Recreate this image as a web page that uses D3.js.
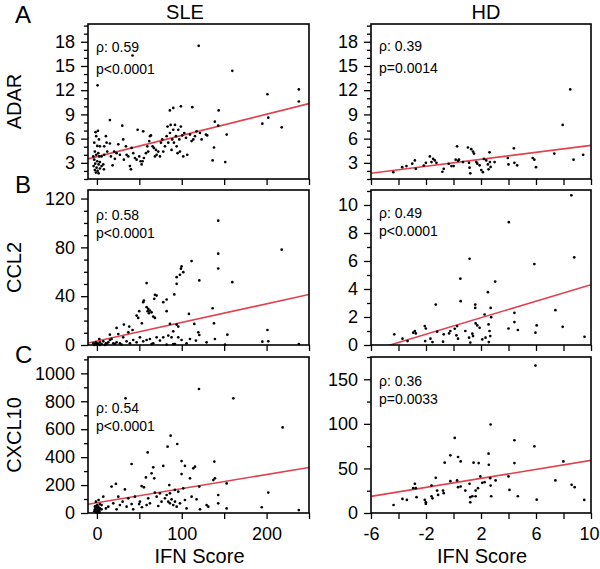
<!DOCTYPE html>
<html>
<head>
<meta charset="utf-8">
<script src="https://cdn.jsdelivr.net/npm/d3@7"></script>
<style>
  html, body { margin: 0; padding: 0; background: #fff; }
  svg { display: block; font-family: "Liberation Sans", Arial, sans-serif; }
</style>
</head>
<body>
<svg id="chart" width="600" height="569"></svg>
<script>
// ---------------- DATA ----------------
const groups = ["SLE", "HD"];
const genes = ["ADAR", "CCL2", "CXCL10"];
const panelLetters = ["A", "B", "C"];
const xTitle = "IFN Score";

// x tick values
const xTicksSLE = [0, 50, 100, 150, 200, 250];
const xLabelsSLE = [0, 100, 200];
const xTicksHD = [-6, -4, -2, 0, 2, 4, 6, 8, 10];
const xLabelsHD = [-6, -2, 2, 6, 10];

// y tick values (major labelled, minor unlabelled)
const yMajorADAR = [3, 6, 9, 12, 15, 18];
const yMinorADAR = [1, 2, 4, 5, 7, 8, 10, 11, 13, 14, 16, 17, 19, 20];
const yMajorCCL2SLE = [0, 40, 80, 120];
const yMinorCCL2SLE = [10, 20, 30, 50, 60, 70, 90, 100, 110];
const yMajorCCL2HD = [0, 2, 4, 6, 8, 10];
const yMinorCCL2HD = [1, 3, 5, 7, 9, 11];
const yMajorCXCL10SLE = [0, 200, 400, 600, 800, 1000];
const yMinorCXCL10SLE = [100, 300, 500, 700, 900, 1100];
const yMajorCXCL10HD = [0, 50, 100, 150];
const yMinorCXCL10HD = [25, 75, 125, 175];

// correlation annotations
const rhoSLE = ["ρ: 0.59", "ρ: 0.58", "ρ: 0.54"];
const pSLE = ["p<0.0001", "p<0.0001", "p<0.0001"];
const rhoHD = ["ρ: 0.39", "ρ: 0.49", "ρ: 0.36"];
const pHD = ["p=0.0014", "p<0.0001", "p=0.0033"];

// regression lines (slope, intercept)
const slopeSLE = [0.0263, 0.1527, 1.014];
const interceptSLE = [3.76, 3.2, 72.7];
const slopeHD = [0.216, 0.295, 2.52];
const interceptHD = [3.01, 1.36, 33.8];

// scatter data [IFN score, expression]
const adarSLE = [
  [-1.6,6.8],[1.2,6.95],[-0.8,6.3],[2.4,5.9],[-3.1,5.5],[0.4,5.1],[3.5,5.05],[-2.4,4.4],[1.6,4.2],[-0.8,4.0],
  [-4.3,3.8],[2.8,3.8],[-3.1,3.4],[0.4,3.2],[3.5,3.1],[-2,2.9],[2,2.8],[-3.9,2.6],[-0.4,2.4],[3.5,2.3],
  [-2.4,2.1],[0.8,2.0],[-1.2,1.8],[2,1.7],[5.5,2.6],[7.5,2.8],[8.3,2.2],[5.5,3.8],[8.6,5.05],[10.6,6.3],
  [15.3,8.3],[8.6,4.0],[11.4,5.5],[12.2,4.4],[15.3,5.4],[16.5,3.8],[18.5,2.7],[20.4,4.4],[21.2,3.5],[23.2,4.2],
  [25.2,5.3],[27.1,4.0],[29.9,7.6],[31,5.9],[31.8,3.4],[34.2,5.05],[35,4.0],[37,3.8],[38.9,2.6],[40.1,2.2],
  [40.9,4.85],[42.8,4.2],[44.8,3.6],[46.8,3.4],[48,7.1],[49.9,3.8],[51.5,3.2],[52.7,2.8],[53.9,3.2],[54.6,6.9],
  [55.4,3.6],[57.8,4.2],[59.4,5.05],[60.5,4.4],[61.7,5.7],[62.5,6.3],[63.7,6.4],[65.6,5.05],[67.2,4.85],[68.4,3.8],
  [69.6,4.6],[70.4,4.0],[72.3,4.4],[74.3,3.8],[75.5,5.5],[77,5.9],[78.2,4.4],[80.2,5.05],[82.2,6.3],[83.3,7.5],
  [84.1,5.5],[86.1,6.7],[86.9,7.7],[88,4.6],[88.8,5.9],[90,7.1],[90.8,5.5],[92,7.7],[93.2,6.3],[94,5.05],
  [95.1,4.2],[95.9,7.1],[97.1,5.9],[97.9,4.4],[99,7.5],[100.6,6.4],[101.8,3.8],[103,6.7],[105,6.1],[106.5,4.0],
  [109.7,6.5],[111.6,5.7],[113.6,5.9],[115.6,6.3],[117.5,6.9],[121.5,6.7],[123.4,5.9],[128.5,6.5],[130,6.4],
  [0.8,12.6],[42,16.3],[120,17.5],[159.6,14.4],[238,12.1],[238,10.6],[201,11.5],[202,8.6],[195,7.85],[217.8,7.4],
  [143.5,9.5],[139,8.1],[143,7.6],[153,6.5],[138,4.9],[136.4,3.3],[151.3,3.1],[112.4,9.9],[99,10.0],[90,9.8],[86,9.5]
];
const adarHD = [
  [-4.38,1.85],[-3.73,2.47],[-3.42,2.6],[-3.0,2.9],[-2.81,3.3],[-2.74,2.26],[-2.16,2.67],[-2.01,3.0],[-1.72,3.8],[-1.6,3.1],
  [-1.48,3.5],[-1.36,3.3],[-1.24,3.0],[-0.81,1.9],[-0.71,2.26],[-0.35,2.88],[-0.15,2.6],[0.01,2.6],[0.16,3.4],[0.26,5.05],
  [0.33,3.25],[0.4,3.4],[0.69,3.1],[1.05,4.9],[1.13,3.0],[1.17,2.4],[1.22,1.7],[1.29,4.7],[1.42,4.4],[1.49,4.15],
  [1.66,3.1],[1.73,2.9],[1.9,2.7],[2.02,2.1],[2.14,1.85],[2.21,3.5],[2.38,3.3],[2.5,2.8],[2.55,2.2],[2.62,4.3],
  [2.65,3.1],[2.7,2.5],[2.99,3.1],[3.95,3.6],[4.0,2.8],[4.39,4.8],[4.43,3.0],[4.63,2.7],[5.76,3.6],[5.88,3.4],
  [6.0,2.47],[7.33,4.15],[7.94,7.7],[8.49,12.1],[8.73,3.4],[9.43,4.0]
];
const ccl2SLE = [
  [143,101.9],[143,74.8],[143,62.7],[217.8,78.1],[159.6,51.5],[120.7,52.9],[111.6,68.8],[99.8,64.4],[99,62.5],[101.8,59.7],
  [97.9,57.5],[94,55.6],[94,50.1],[91.2,41.4],[82.2,37.3],[78.2,35.1],[70.4,40.5],[68.4,41.1],[67.6,37.8],[58.6,50.7],
  [55.4,36.4],[58.6,31],[60.5,29.6],[62.5,28.2],[59.8,27.7],[64.5,26.8],[61.3,26],[66.4,23.3],[68.4,22.2],[46.8,24.1],
  [48.7,22.2],[49.9,27.7],[54.6,35.1],[53,17.8],[42,12.3],[38.1,15.1],[31.8,16.7],[23.2,14],[15.3,8.5],[25.2,9],
  [37,10.4],[15.3,4.1],[82.2,27.7],[86.1,17.3],[94,16.7],[95.9,15.1],[90,11.2],[84.1,7.7],[88,6.3],[108.5,25.5],
  [114.8,17.3],[119.5,10.4],[120.7,8.2],[136.4,30.1],[138,17.8],[153.8,8.5],[139.1,4.9],[129.3,2.2],[151,0.3],[109.7,4.9],
  [116.7,3.6],[201,12.3],[202,3.0],[195,2.7],[238,0.8],[105.7,1.4],[99.8,4.1],[95.9,6.3],[92,0.8],[78.2,6.3],
  [74.3,3.6],[70.4,6.3],[66.4,1.4],[62.5,4.9],[58.6,4.1],[54.6,3.0],[50.7,6.3],[46.8,2.2],[42.8,4.1],[38.9,1.4],
  [35,3.0],[31,6.3],[27.1,1.4],[23.2,2.2],[19.3,1.4],[17.3,4.9],[13.4,2.2],[10.6,1.4],[7.5,3.0],[5.5,0.8],
  [3.5,2.2],[2.8,4.9],[1.6,0.8],[0.4,1.4],[-0.4,0.3],[-1.2,2.2],[-2.4,0.8],[-3.1,0],[-4.3,1.4],[3.5,0],
  [9.4,0],[11.4,0.8],[21.2,0.8],[29.1,0.3],[64.5,0.8],[82.2,0.3],[90,0.8]
];
const ccl2HD = [
  [-4.31,0.76],[-3.71,0.45],[-3.34,0.28],[-2.93,0.88],[-2.81,1.0],[-2.74,0.83],[-2.09,1.35],[-2.01,1.18],[-2.06,0.28],[-1.68,0.45],
  [-1.53,0.21],[-1.29,2.89],[-1.19,0.95],[-0.76,0.24],[-0.71,0.76],[-0.32,0.83],[-0.23,1.0],[0.09,1.16],[0.26,1.35],[0.21,0.69],
  [0.33,0.45],[0.5,4.74],[0.52,3.13],[0.86,1.0],[1.17,6.16],[1.13,0.52],[1.22,0.17],[1.37,0.81],[1.42,0.64],[1.58,2.89],
  [1.58,2.65],[1.61,1.54],[1.73,1.4],[1.9,1.23],[2.09,0.4],[2.26,2.18],[2.33,0.52],[2.5,3.77],[2.55,1.47],[2.57,0.21],
  [2.62,1.0],[2.67,0.64],[2.7,2.65],[2.74,1.99],[3.03,4.53],[4.02,8.77],[4.0,1.18],[4.43,2.3],[4.43,1.64],[4.68,1.07],
  [5.88,5.78],[5.96,0.88],[6.05,1.4],[7.41,2.49],[7.94,1.3],[8.57,10.69],[8.78,6.26],[9.53,0.59]
];
const cxcl10SLE = [
  [120.3,888],[160.8,821],[33.8,821],[218.9,613],[86.9,554],[94.7,494],[83.3,475],[59.8,434],[99.8,372],[40.9,351],
  [103.8,337],[138.4,368],[115.6,332],[113.6,320],[78.2,337],[66.4,327],[64.5,284],[99.8,279],[139.1,248],[137.2,236],
  [57.8,255],[67.6,248],[109.7,248],[17.3,189],[22.4,208],[33,169],[52.7,193],[55.4,184],[85.3,200],[91.9,165],
  [95.9,153],[101.8,177],[120.7,189],[152.9,212],[143,129],[202,146],[111.6,117],[117.5,98],[143,69],[129.3,57],
  [131.3,45],[121.5,26],[152.9,33],[194.3,41],[238,21],[7.5,117],[19.3,69],[25.2,117],[30.3,81],[37,105],
  [40.9,64],[44.8,117],[49.7,64],[50.7,81],[60.5,105],[62.5,69],[70.4,117],[72.3,50],[76.2,81],[80.2,105],
  [82.2,129],[84.1,81],[86.1,69],[88,98],[90,57],[92,81],[94,45],[97.9,69],[103.8,93],[105.7,33],
  [86.1,141],[74.3,141],[68.4,146],[58.6,57],[53.1,41],[42.8,26],[35,45],[27.1,57],[23.2,26],[13.4,45],
  [10.6,33],[5.5,26],[-1.2,81],[0.4,57],[1.6,45],[-0.4,33],[-2.4,26],[0.8,21],[2.8,17],[-1.2,12],
  [1.6,7],[-0.4,2],[3.5,33],[-3.1,12],[2,93],[3.5,64],[5.5,57],[-1.6,50],[0.4,41],[3.1,5],
  [-2.4,45],[1.2,26]
];
const cxcl10HD = [
  [-4.36,9.0],[-3.71,15.8],[-3.39,14.7],[-2.93,27.8],[-2.81,32.7],[-2.74,27.8],[-2.69,17.7],[-2.09,14.7],[-2.01,12.0],[-2.01,10.2],
  [-1.6,18.8],[-1.53,16.5],[-1.6,30.8],[-1.29,39.5],[-1.19,25.2],[-1.12,20.3],[-0.76,25.2],[-0.71,22.2],[-0.64,56.4],[-0.23,64.7],
  [-0.23,35.7],[0.09,84.2],[0.26,36.5],[0.33,62.8],[0.33,29],[0.52,57.9],[0.52,29.7],[0.86,25.2],[1.17,32.7],[1.22,17.7],
  [1.22,12.0],[1.37,18.8],[1.46,56.4],[1.61,25.2],[1.61,18.8],[1.78,27.8],[1.83,56],[1.95,41],[2.09,33.8],[2.26,34.6],
  [2.55,66.6],[2.57,54.1],[2.67,39.1],[2.7,99.3],[2.7,30.8],[2.74,18.8],[3.06,36.5],[4.0,41],[4.07,25.9],[4.43,81.6],
  [4.43,56],[4.68,18.8],[5.88,74.8],[5.96,165.4],[6.05,15.0],[7.41,36.5],[7.99,57.9],[8.59,31.6],[8.81,29],[9.51,14.7]
];

// ---------------- LAYOUT ----------------
const svg = d3.select("#chart");
const cols = [{ x0: 88, x1: 309 }, { x0: 371, x1: 591 }];
const rows = [{ y0: 24, y1: 179 }, { y0: 190, y1: 345 }, { y0: 357, y1: 513 }];
const xDomains = [[-10.5, 250], [-6, 10]];
const yDomains = [
  [[1, 20.2], [1, 20.2]],
  [[0, 127], [0, 11.07]],
  [[0, 1117], [0, 175]]
];
const dataGrid = [[adarSLE, adarHD], [ccl2SLE, ccl2HD], [cxcl10SLE, cxcl10HD]];
const yMajorGrid = [[yMajorADAR, yMajorADAR], [yMajorCCL2SLE, yMajorCCL2HD], [yMajorCXCL10SLE, yMajorCXCL10HD]];
const yMinorGrid = [[yMinorADAR, yMinorADAR], [yMinorCCL2SLE, yMinorCCL2HD], [yMinorCXCL10SLE, yMinorCXCL10HD]];
const xTicks = [xTicksSLE, xTicksHD];
const xLabels = [xLabelsSLE, xLabelsHD];
const rhoGrid = [rhoSLE, rhoHD];
const pGrid = [pSLE, pHD];
const slopes = [slopeSLE, slopeHD];
const intercepts = [interceptSLE, interceptHD];
const annotX = [96, 379];
const annotY = [[51.7, 74], [220, 237.5], [413, 431]];
const annotYHD = [[50.7, 73.3], [217.5, 236], [386, 403.5]];
const FONT = '"Liberation Sans", Arial, sans-serif';

const defs = svg.append("defs");

rows.forEach((r, ri) => {
  cols.forEach((c, ci) => {
    const x = d3.scaleLinear().domain(xDomains[ci]).range([c.x0, c.x1]);
    const y = d3.scaleLinear().domain(yDomains[ri][ci]).range([r.y1, r.y0]);
    const g = svg.append("g");

    const clipId = `clip-${ri}-${ci}`;
    defs.append("clipPath").attr("id", clipId)
      .append("rect").attr("x", c.x0).attr("y", r.y0)
      .attr("width", c.x1 - c.x0).attr("height", r.y1 - r.y0);

    // y minor ticks
    g.append("g").attr("transform", `translate(${c.x0},0)`)
      .call(d3.axisLeft(y).tickValues(yMinorGrid[ri][ci].filter(v => v <= yDomains[ri][ci][1])).tickSize(4).tickFormat(""))
      .call(a => a.select(".domain").remove())
      .call(a => a.selectAll("line").attr("stroke", "#000").attr("stroke-width", 1.3));
    // y major ticks
    g.append("g").attr("transform", `translate(${c.x0},0)`)
      .call(d3.axisLeft(y).tickValues(yMajorGrid[ri][ci]).tickSize(7).tickPadding(6).tickFormat(d3.format("d")))
      .call(a => a.select(".domain").remove())
      .call(a => a.selectAll("line").attr("stroke", "#000").attr("stroke-width", 1.3))
      .call(a => a.selectAll("text").attr("font-size", 18).attr("fill", "#000").attr("font-family", FONT));

    // x ticks
    const xDom = xDomains[ci];
    g.append("g").attr("transform", `translate(0,${r.y1})`)
      .call(d3.axisBottom(x).tickValues(xTicks[ci]).tickSize(6).tickPadding(8)
        .tickFormat(d => (ri === 2 && xLabels[ci].includes(d)) ? String(d) : ""))
      .call(a => a.select(".domain").remove())
      .call(a => a.selectAll("line").attr("stroke", "#000").attr("stroke-width", 1.3))
      .call(a => a.selectAll("text").attr("font-size", 18).attr("fill", "#000").attr("font-family", FONT)
        .attr("dx", d => d === xDom[1] && ci === 1 ? -2 : 0));

    // regression line
    const lineData = xDom.map(v => [v, slopes[ci][ri] * v + intercepts[ci][ri]]);
    g.append("path")
      .datum(lineData)
      .attr("clip-path", `url(#${clipId})`)
      .attr("d", d3.line().x(d => x(d[0])).y(d => y(d[1])))
      .attr("fill", "none")
      .attr("stroke", "#e0434f")
      .attr("stroke-width", 1.6);

    // points
    g.append("g").selectAll("circle")
      .data(dataGrid[ri][ci])
      .join("circle")
      .attr("cx", d => x(d[0]))
      .attr("cy", d => y(d[1]))
      .attr("r", 1.35)
      .attr("fill", "#000");

    // frame
    g.append("rect")
      .attr("x", c.x0).attr("y", r.y0)
      .attr("width", c.x1 - c.x0).attr("height", r.y1 - r.y0)
      .attr("fill", "none").attr("stroke", "#000").attr("stroke-width", 1.6);

    // annotations
    const ay = ci === 0 ? annotY[ri] : annotYHD[ri];
    g.append("text").attr("x", annotX[ci]).attr("y", ay[0])
      .attr("font-size", 14).attr("fill", "#000").text(rhoGrid[ci][ri]);
    g.append("text").attr("x", annotX[ci]).attr("y", ay[1])
      .attr("font-size", 14).attr("fill", "#000").text(pGrid[ci][ri]);
  });

  // y title
  const cy = (r.y0 + r.y1) / 2;
  svg.append("text")
    .attr("transform", `translate(21,${cy}) rotate(-90)`)
    .attr("text-anchor", "middle")
    .attr("font-size", 20)
    .attr("fill", "#000")
    .text(genes[ri]);
});

// group titles
const titleX = [185, 486];
groups.forEach((t, i) => {
  svg.append("text").attr("x", titleX[i]).attr("y", 18.5)
    .attr("text-anchor", "middle").attr("font-size", 20).attr("fill", "#000").text(t);
});

// panel letters
const letterY = [22.5, 193, 363];
panelLetters.forEach((t, i) => {
  svg.append("text").attr("x", 15).attr("y", letterY[i])
    .attr("font-size", 24).attr("fill", "#000").text(t);
});

// x titles
const xTitleX = [199.5, 482];
xTitleX.forEach(xx => {
  svg.append("text").attr("x", xx).attr("y", 563)
    .attr("text-anchor", "middle").attr("font-size", 20).attr("fill", "#000").text(xTitle);
});
</script>
</body>
</html>
